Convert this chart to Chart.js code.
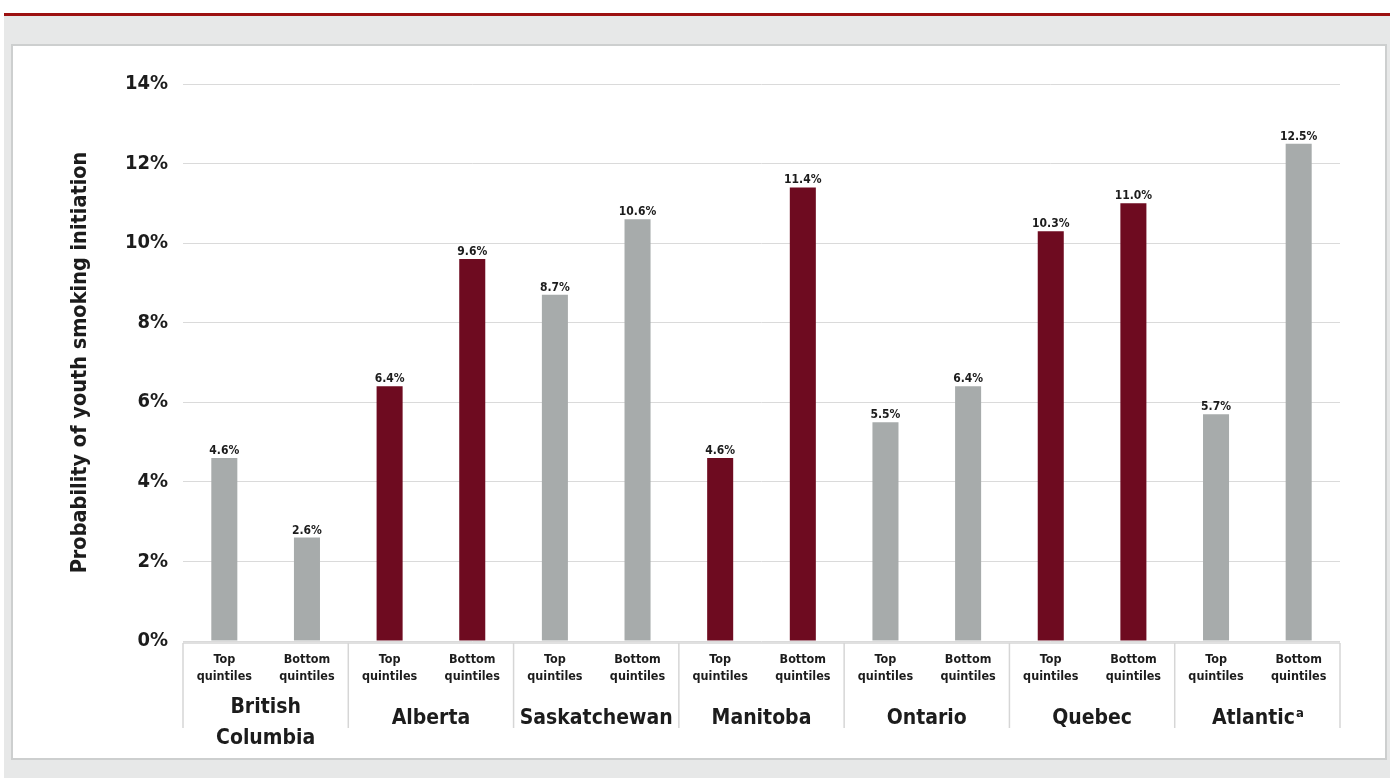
<!DOCTYPE html>
<html><head><meta charset="utf-8">
<script src="https://cdn.jsdelivr.net/npm/chart.js@4.4.1/dist/chart.umd.min.js"></script>
<style>
html,body{margin:0;padding:0;width:1390px;height:778px;overflow:hidden;background:#fff;}
#bg{position:absolute;left:4px;top:16px;width:1386px;height:762px;background:#e7e8e8;}
#rule{position:absolute;left:4px;top:13px;width:1386px;height:3px;background:#9c1111;}
#panel{position:absolute;left:11px;top:44px;width:1372px;height:712px;background:#fff;border:2px solid #cdcfcf;}
#wrap{position:absolute;left:0;top:0;width:1390px;height:778px;}
</style></head>
<body>
<div id="bg"></div><div id="rule"></div><div id="panel"></div>
<div id="wrap"><canvas id="c" width="1390" height="778"></canvas></div>
<script>
// ---- data ----
const regions = [['British','Columbia'], ['Alberta'], ['Saskatchewan'], ['Manitoba'], ['Ontario'], ['Quebec'], ['Atlantic']];
const regionSuperscripts = ['', '', '', '', '', '', 'a'];
const quintileLabels = [['Top','quintiles'], ['Bottom','quintiles']];
const values = [4.6, 2.6, 6.4, 9.6, 8.7, 10.6, 4.6, 11.4, 5.5, 6.4, 10.3, 11.0, 5.7, 12.5];
const yTicks = [0, 2, 4, 6, 8, 10, 12, 14];
const yTitle = 'Probability of youth smoking initiation';
// colour per region
const GRAY = '#a7abab', RED = '#6e0b20';
const regionColors = [GRAY, RED, GRAY, RED, GRAY, RED, GRAY];

const FONT = "'Liberation Sans Narrow', 'DejaVu Sans Condensed', 'Liberation Sans', sans-serif";
const TXT = '#1c1c1c';
Chart.defaults.font.family = FONT;

const labels = [];
const colors = [];
regions.forEach((r, i) => {
  quintileLabels.forEach(q => { labels.push(q); colors.push(regionColors[i]); });
});

const GF = 21, SF = 13;
const groupPlugin = {
  id: 'groups',
  afterDraw(chart) {
    const ctx = chart.ctx;
    const x = chart.scales.x;
    const area = chart.chartArea;
    const per = quintileLabels.length;
    const slot = x.getPixelForValue(1) - x.getPixelForValue(0);
    const base = area.bottom + 2;
    ctx.save();
    ctx.strokeStyle = '#d6d6d6';
    ctx.lineWidth = 1.5;
    ctx.beginPath();
    ctx.moveTo(area.left, base); ctx.lineTo(area.right, base);
    for (let g = 0; g <= regions.length; g++) {
      const px = x.getPixelForValue(g * per) - slot / 2;
      ctx.moveTo(px, base); ctx.lineTo(px, base + 85);
    }
    ctx.stroke();
    ctx.fillStyle = TXT;
    ctx.textAlign = 'center';
    ctx.textBaseline = 'middle';
    regions.forEach((r, g) => {
      const cx = (x.getPixelForValue(g * per) + x.getPixelForValue(g * per + per - 1)) / 2;
      const lh = 31;
      const cy = (r.length > 1 ? 723 : 719) - (r.length - 1) * lh / 2;
      r.forEach((line, k) => {
        const sup = regionSuperscripts[g];
        if (sup && k === r.length - 1) {
          ctx.font = "bold " + GF + "px " + FONT;
          const w1 = ctx.measureText(line).width;
          ctx.font = "bold " + SF + "px " + FONT;
          const w2 = ctx.measureText(sup).width;
          const start = cx - (w1 + w2) / 2;
          ctx.textAlign = 'left';
          ctx.font = "bold " + GF + "px " + FONT;
          ctx.fillText(line, start, cy + k * lh);
          ctx.font = "bold " + SF + "px " + FONT;
          ctx.fillText(sup, start + w1 + 1, cy + k * lh - 5);
          ctx.textAlign = 'center';
        } else {
          ctx.font = "bold " + GF + "px " + FONT;
          ctx.fillText(line, cx, cy + k * lh);
        }
      });
    });
    // value labels
    const meta = chart.getDatasetMeta(0);
    ctx.font = "bold 12px " + FONT;
    ctx.textBaseline = 'alphabetic';
    meta.data.forEach((bar, j) => {
      ctx.fillText(values[j].toFixed(1) + '%', bar.x, bar.y - 4);
    });
    ctx.restore();
  }
};

new Chart(document.getElementById('c'), {
  type: 'bar',
  data: {
    labels: labels,
    datasets: [{
      data: values,
      backgroundColor: colors,
      categoryPercentage: 1,
      barPercentage: 0.315
    }]
  },
  options: {
    responsive: false,
    animation: false,
    layout: { padding: { left: 64, top: 84, right: 50, bottom: 0 } },
    plugins: { legend: { display: false }, tooltip: { enabled: false } },
    scales: {
      x: {
        grid: { display: false, drawTicks: false },
        border: { display: false },
        ticks: { color: TXT, font: { size: 12.5, weight: 'bold', lineHeight: 1.3 }, padding: 11, maxRotation: 0, autoSkip: false },
        afterFit(s) { s.height = 778 - 641; }
      },
      y: {
        min: 0, max: 14,
        afterBuildTicks(s) { s.ticks = yTicks.map(v => ({ value: v })); },
        grid: { color: '#dadada', lineWidth: 1, drawTicks: false },
        border: { display: false },
        ticks: { color: TXT, font: { size: 20, weight: 'bold' }, padding: 15, callback: v => v + '%' },
        title: { display: true, text: yTitle, color: TXT, font: { size: 21.5, weight: 'bold' }, padding: { top: 4, bottom: 4 } },
        afterFit(s) { s.width = 183 - 64; }
      }
    }
  },
  plugins: [groupPlugin]
});
</script>
</body></html>
